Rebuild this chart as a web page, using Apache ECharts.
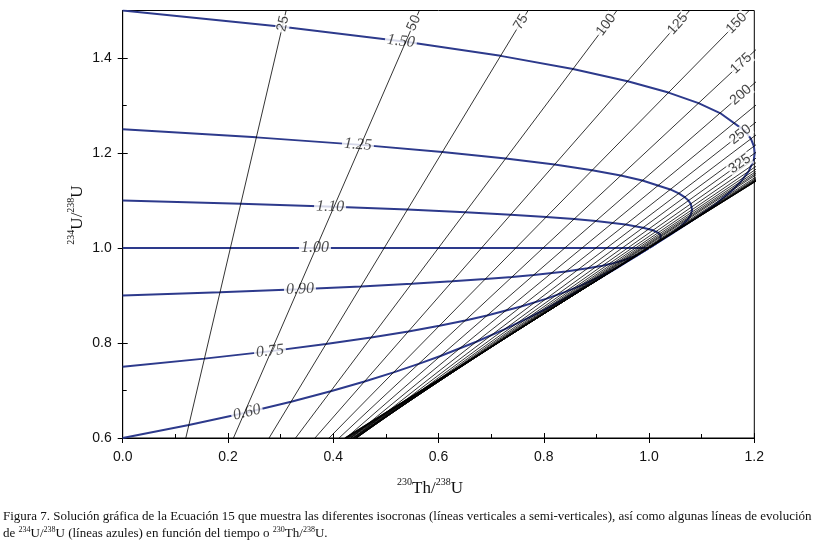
<!DOCTYPE html>
<html><head><meta charset="utf-8">
<script src="https://cdn.jsdelivr.net/npm/echarts@6/dist/echarts.min.js"></script>
<style>html,body{margin:0;padding:0;background:#fff}#c{width:823px;height:541px}</style>
</head><body><div id="c"></div>
<script>
// ---------- data ----------
// isochrons (ka): x (230Th/238U) where each straight isochron meets 234U/238U = 0.6 and = 1.5
const isoAges  = [25,50,75,100,125,150,175,200,225,250,275,300,325,350,375,400,425,450,475,500,550,600,650,700,750,800,900,1000,1500];
const isoX060  = [0.1199,0.2104,0.2781,0.3284,0.3653,0.3921,0.4111,0.4244,0.4333,0.4390,0.4423,0.4439,0.4444,0.4440,0.4430,0.4418,0.4403,0.4387,0.4371,0.4356,0.4327,0.4303,0.4283,0.4267,0.4254,0.4244,0.4231,0.4224,0.4215];
const isoX150  = [0.3105,0.5636,0.7702,0.9390,1.0771,1.1902,1.2830,1.3592,1.4218,1.4733,1.5158,1.5509,1.5798,1.6038,1.6236,1.6401,1.6537,1.6651,1.6745,1.6824,1.6945,1.7029,1.7088,1.7129,1.7159,1.7180,1.7205,1.7218,1.7231];
const isoLabeled = [25,50,75,100,125,150,175,200,250,325];

// evolution lines (blue) for initial 234U/238U
const evoNames = ['1.50','1.25','1.10','1.00','0.90','0.75','0.60'];
const evo150 = [[0,1.5],[0.3033,1.4659],[0.5378,1.4341],[0.7180,1.4045],[0.8555,1.3769],[0.9594,1.3512],[1.0370,1.3272],[1.0940,1.3049],[1.1349,1.2841],[1.1822,1.2467],[1.1936,1.2298],[1.1993,1.2142],[1.2008,1.1995],[1.1991,1.1859],[1.1893,1.1614],[1.1748,1.1402],[1.1583,1.1217],[1.1256,1.0917],[1.0972,1.0691],[1.0743,1.0521],[1.0427,1.0296],[1.0243,1.0168],[1.0104,1.0072],[1.0025,1.0018]];
const evo125 = [[0,1.25],[0.2540,1.2329],[0.4526,1.2171],[0.6074,1.2022],[0.7277,1.1885],[0.8206,1.1756],[0.8919,1.1636],[0.9463,1.1525],[0.9874,1.1421],[1.0404,1.1233],[1.0565,1.1149],[1.0676,1.1071],[1.0749,1.0998],[1.0793,1.0930],[1.0818,1.0807],[1.0793,1.0701],[1.0740,1.0608],[1.0607,1.0459],[1.0478,1.0346],[1.0368,1.0261],[1.0213,1.0148],[1.0122,1.0084],[1.0052,1.0036],[1.0013,1.0009]];
const evo110 = [[0,1.1],[0.2244,1.0932],[0.4015,1.0868],[0.5411,1.0809],[0.6509,1.0754],[0.7372,1.0702],[0.8049,1.0654],[0.8577,1.0610],[0.8989,1.0568],[0.9554,1.0493],[0.9886,1.0428],[1.0074,1.0372],[1.0173,1.0323],[1.0220,1.0280],[1.0235,1.0243],[1.0218,1.0183],[1.0181,1.0138],[1.0143,1.0104],[1.0084,1.0059],[1.0049,1.0034],[1.0021,1.0014],[1.0005,1.0004]];
const evo100 = [[0,1.0],[1.0,1.0]];
const evo090 = [[0,0.9],[0.1849,0.9068],[0.3333,0.9132],[0.4526,0.9191],[0.5486,0.9246],[0.6261,0.9298],[0.6888,0.9346],[0.7396,0.9390],[0.7808,0.9432],[0.8420,0.9507],[0.8832,0.9572],[0.9115,0.9628],[0.9314,0.9677],[0.9560,0.9757],[0.9700,0.9817],[0.9786,0.9862],[0.9844,0.9896],[0.9913,0.9941],[0.9951,0.9966],[0.9979,0.9986],[0.9995,0.9996]];
const evo075 = [[0,0.75],[0.1553,0.7671],[0.2822,0.7829],[0.3862,0.7978],[0.4719,0.8116],[0.5428,0.8244],[0.6017,0.8364],[0.6509,0.8475],[0.6923,0.8579],[0.7569,0.8767],[0.8042,0.8929],[0.8396,0.9070],[0.8669,0.9193],[0.9054,0.9392],[0.9310,0.9541],[0.9489,0.9654],[0.9619,0.9739],[0.9785,0.9852],[0.9878,0.9916],[0.9948,0.9964],[0.9987,0.9991]];
const evo060 = [[0,0.6],[0.1257,0.6273],[0.2311,0.6527],[0.3199,0.6764],[0.3952,0.6985],[0.4595,0.7191],[0.5147,0.7382],[0.5623,0.7561],[0.6038,0.7727],[0.6719,0.8027],[0.7252,0.8287],[0.7678,0.8513],[0.8024,0.8709],[0.8549,0.9027],[0.8921,0.9266],[0.9193,0.9447],[0.9394,0.9583],[0.9657,0.9763],[0.9805,0.9865],[0.9917,0.9942],[0.9980,0.9986]];

// axis ticks
const xMajor = [0,0.2,0.4,0.6,0.8,1.0,1.2];
const xMinor = [0.1,0.3,0.5,0.7,0.9,1.1];
const yMajor = [0.6,0.8,1.0,1.2,1.4];
const yMinor = [0.7,0.9,1.1,1.3];

// ---------- layout ----------
const G = {left:122.7, top:10.5, width:631.6, height:427.5};
const XMIN=0, XMAX=1.2, YMIN=0.6, YMAX=1.5;
const sx = G.width/(XMAX-XMIN), sy = G.height/(YMAX-YMIN);
const toPx = p => [G.left+(p[0]-XMIN)*sx, G.top+(YMAX-p[1])*sy];
const toData = q => [XMIN+(q[0]-G.left)/sx, YMAX-(q[1]-G.top)/sy];
const evoCurves = [evo150,evo125,evo110,evo100,evo090,evo075,evo060];
const evoLabelX = [0.5286,0.4469,0.394,0.3653,0.3368,0.2798,0.2361];
const BLUE = '#2d3a8c';

const series = [];
evoCurves.forEach((c,i)=>{
  series.push({type:'line', name:'evo'+evoNames[i], data:c, symbol:'none', z:2, silent:true,
    lineStyle:{color:BLUE, width:2}, animation:false});
});
isoAges.forEach((t,i)=>{
  series.push({type:'line', name:'iso'+t, data:[[isoX060[i],0.6],[isoX150[i],1.5]], symbol:'none', z:4, silent:true,
    lineStyle:{color:'#000', width:0.8}, animation:false});
});

// blue labels with white mask breaking the blue line
function onCurve(curve, x){
  for(let k=0;k<curve.length-1;k++){
    const p=curve[k], q=curve[k+1];
    if((p[0]-x)*(q[0]-x)<=0 && p[0]!==q[0]){
      const f=(x-p[0])/(q[0]-p[0]);
      const y=p[1]+f*(q[1]-p[1]);
      const a=toPx(p), b=toPx(q);
      return {pt:[x,y], ang:Math.atan2(-(b[1]-a[1]), b[0]-a[0])*180/Math.PI};
    }
  }
}
const blueLab = evoNames.map((n,i)=>{
  const r=onCurve(evoCurves[i], evoLabelX[i]);
  return {value:r.pt, name:n, symbolRotate:r.ang, label:{rotate:r.ang}};
});
series.push({type:'scatter', data:blueLab, symbol:'rect', symbolSize:[32,15], z:3, silent:true, animation:false,
  itemStyle:{color:'#fff'},
  label:{show:true, position:'inside', formatter:'{b}', fontFamily:'Liberation Serif', fontStyle:'italic', fontSize:16, color:'#222'}});

// isochron labels
const isoLab = isoLabeled.map(t=>{
  const i=isoAges.indexOf(t);
  const p0=[isoX060[i],0.6], p1=[isoX150[i],1.5];
  let end=p1;
  if(p1[0]>XMAX){const f=(XMAX-p0[0])/(p1[0]-p0[0]); end=[XMAX, p0[1]+f*(p1[1]-p0[1])];}
  const a=toPx(p0), b=toPx(end);
  const dx=b[0]-a[0], dy=b[1]-a[1], L=Math.hypot(dx,dy);
  const s=String(t), d=5+4.3*s.length;
  const c=[b[0]-dx/L*d, b[1]-dy/L*d];
  const ang=Math.atan2(-dy,dx)*180/Math.PI;
  return {value:toData(c), name:s, label:{rotate:ang}};
});
series.push({type:'scatter', data:isoLab, symbol:'rect', symbolSize:1, z:6, silent:true, animation:false,
  itemStyle:{color:'rgba(0,0,0,0)'},
  label:{show:true, position:'inside', formatter:'{b}', fontFamily:'Liberation Sans', fontSize:14, color:'#111',
    backgroundColor:'#fff', padding:[0,1]}});

const tickStyle={color:'#000', width:1};
function xAx(extra){return Object.assign({type:'value', min:XMIN, max:XMAX, position:'bottom',
  axisLine:{show:false}, splitLine:{show:false}, axisLabel:{show:false}, axisTick:{show:false}}, extra);}
function yAx(extra){return Object.assign({type:'value', min:YMIN, max:YMAX, position:'left',
  axisLine:{show:false}, splitLine:{show:false}, axisLabel:{show:false}, axisTick:{show:false}}, extra);}

const option = {
  animation:false,
  backgroundColor:'#fff',
  grid:{left:G.left, top:G.top, width:G.width, height:G.height, show:true, borderColor:'#000', borderWidth:1},
  xAxis:[
    xAx({axisLine:{show:true, onZero:false, lineStyle:{color:'#000', width:1}},
      axisTick:{show:true, inside:false, length:5, customValues:xMajor, lineStyle:tickStyle},
      axisLabel:{show:true, customValues:xMajor, formatter:v=>v.toFixed(1), fontFamily:'Liberation Sans', fontSize:14, color:'#111', margin:12}}),
    xAx({axisTick:{show:true, inside:true, length:5, customValues:xMajor, lineStyle:tickStyle}}),
    xAx({axisTick:{show:true, inside:true, length:4, customValues:xMinor, lineStyle:tickStyle}})
  ],
  yAxis:[
    yAx({axisLine:{show:true, onZero:false, lineStyle:{color:'#000', width:1}},
      axisTick:{show:true, inside:false, length:5, customValues:yMajor, lineStyle:tickStyle},
      axisLabel:{show:true, customValues:yMajor, formatter:v=>v.toFixed(1), fontFamily:'Liberation Sans', fontSize:14, color:'#111', margin:11}}),
    yAx({axisTick:{show:true, inside:true, length:5, customValues:yMajor, lineStyle:tickStyle}}),
    yAx({axisTick:{show:true, inside:true, length:4, customValues:yMinor, lineStyle:tickStyle}})
  ],
  series:series,
  graphic:[
    {type:'text', x:430, y:487, silent:true, style:{
      text:'{s|230}{n|Th/}{s|238}{n|U}', align:'center', verticalAlign:'middle',
      rich:{s:{fontFamily:'Liberation Serif', fontSize:10, lineHeight:10, verticalAlign:'top', fill:'#111'},
            n:{fontFamily:'Liberation Serif', fontSize:17, lineHeight:20, verticalAlign:'bottom', fill:'#111'}}}},
    {type:'text', x:76, y:215, rotation:Math.PI/2, silent:true, style:{
      text:'{s|234}{n|U/}{s|238}{n|U}', align:'center', verticalAlign:'middle',
      rich:{s:{fontFamily:'Liberation Serif', fontSize:10, lineHeight:10, verticalAlign:'top', fill:'#111'},
            n:{fontFamily:'Liberation Serif', fontSize:17, lineHeight:20, verticalAlign:'bottom', fill:'#111'}}}},
    {type:'text', x:3, y:517, silent:true, style:{
      text:'Figura 7. Solución gráfica de la Ecuación 15 que muestra las diferentes isocronas (líneas verticales a semi-verticales), así como algunas líneas de evolución',
      fontFamily:'Liberation Serif', fontSize:13, fill:'#111', verticalAlign:'middle'}},
    {type:'text', x:3, y:533, silent:true, style:{
      text:'{n|de }{s|234}{n|U/}{s|238}{n|U (líneas azules) en función del tiempo o }{s|230}{n|Th/}{s|238}{n|U.}',
      verticalAlign:'middle',
      rich:{s:{fontFamily:'Liberation Serif', fontSize:8, lineHeight:8, verticalAlign:'top', fill:'#111'},
            n:{fontFamily:'Liberation Serif', fontSize:13, lineHeight:15, verticalAlign:'bottom', fill:'#111'}}}}
  ]
};
const chart = echarts.init(document.getElementById('c'), null, {renderer:'canvas'});
chart.setOption(option);
</script>
</body></html>
